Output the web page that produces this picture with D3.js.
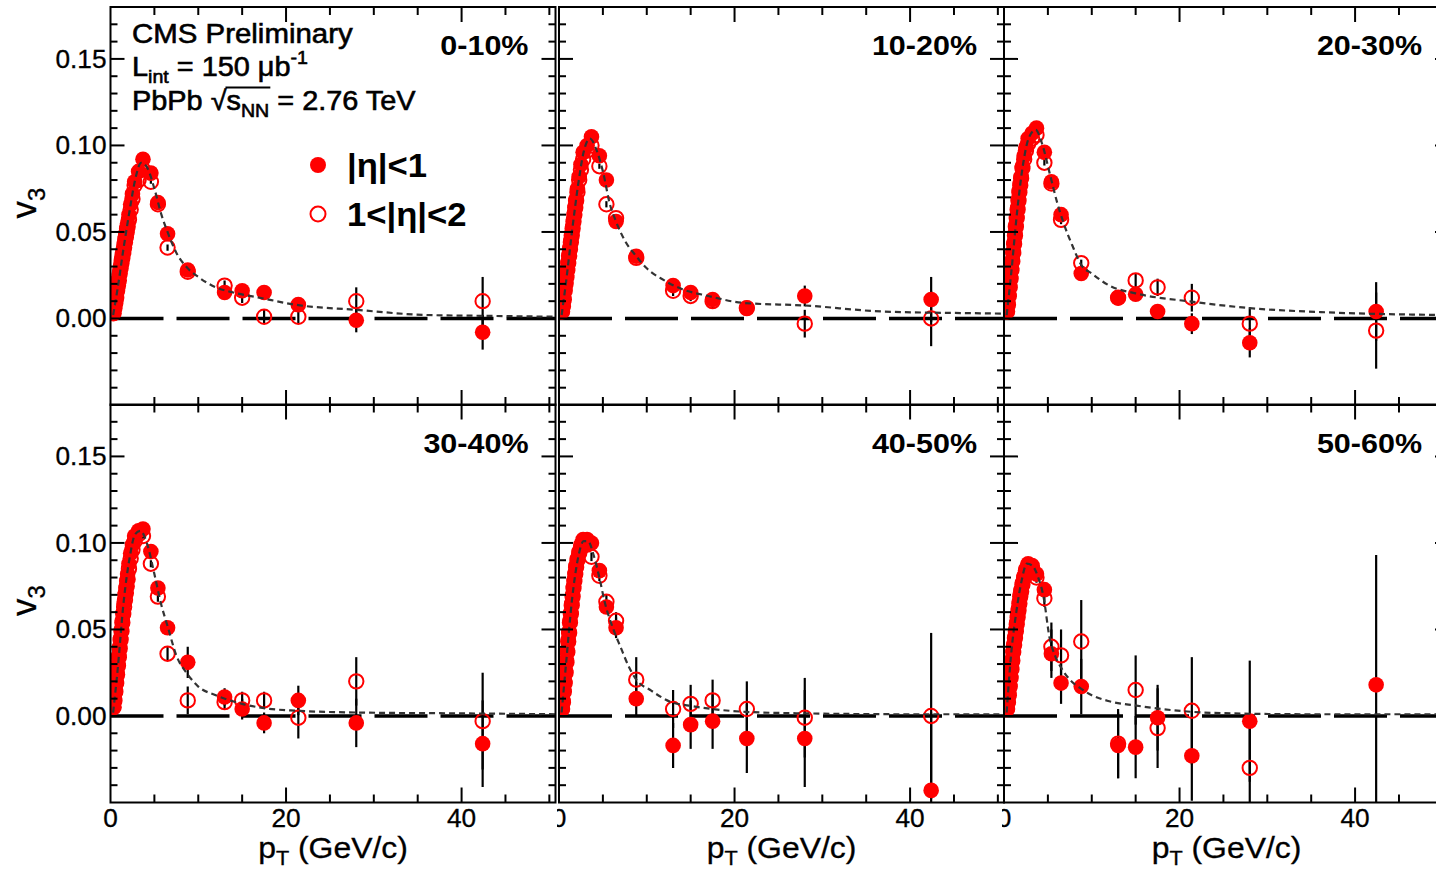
<!DOCTYPE html>
<html>
<head>
<meta charset="utf-8">
<title>v3 vs pT, PbPb 2.76 TeV</title>
<script src="https://cdn.jsdelivr.net/npm/d3@7/dist/d3.min.js"></script>
<style>
  html, body { margin: 0; padding: 0; background: #fff; }
  svg { display: block; }
  text { white-space: pre; }
</style>
</head>
<body>
<svg id="chart" width="1436" height="872"></svg>
<script>
// ---------------------------------------------------------------
// Data
// ---------------------------------------------------------------
// pT bin centres (GeV/c), shared by all centrality classes
const pT = [0.35,0.45,0.55,0.65,0.75,0.85,0.95,1.05,1.15,1.25,1.35,1.45,1.55,1.65,1.75,1.85,1.95,
            2.1,2.3,2.5,2.75,3.2,3.7,4.6,5.4,6.5,8.8,13.0,15.0,17.5,21.4,28.0,42.4];

const centralityLabels = ["0-10%", "10-20%", "20-30%", "30-40%", "40-50%", "50-60%"];

// v3 for |eta|<1 (filled) and 1<|eta|<2 (open), with their errors
const mid_0_10    = [.003,.006,.010,.013,.017,.020,.024,.027,.030,.034,.037,.040,.043,.046,.049,.052,.055,
                     .060,.066,.072,.079,.085,.092,.084,.067,.049,.028,.015,.016,.015,.008,-.001,-.008];
const midErr_0_10 = [.0004,.0004,.0004,.0004,.0004,.0004,.0004,.0004,.0004,.0004,.0004,.0004,.0004,.0004,.0004,.0004,.0004,
                     .0005,.0005,.0005,.0006,.0006,.0007,.0008,.001,.0012,.0015,.002,.002,.003,.003,.007,.010];
const fwd_0_10    = [.003,.006,.009,.012,.016,.019,.022,.026,.029,.032,.035,.038,.041,.044,.047,.050,.053,
                     .057,.063,.069,.077,.080,.086,.079,.066,.041,.027,.019,.012,.001,.001,.010,.010];
const fwdErr_0_10 = [.0005,.0005,.0005,.0005,.0005,.0005,.0005,.0005,.0005,.0005,.0005,.0005,.0005,.0005,.0005,.0005,.0005,
                     .0006,.0006,.0007,.0008,.0009,.001,.0012,.0015,.0018,.002,.003,.003,.004,.004,.008,.014];

const mid_10_20    = [.004,.008,.012,.017,.021,.025,.029,.033,.037,.041,.045,.049,.053,.057,.061,.065,.069,
                      .075,.082,.089,.096,.100,.105,.094,.080,.056,.036,.019,.015,.011,.006,.013,.011];
const midErr_10_20 = [.0004,.0004,.0004,.0004,.0004,.0004,.0004,.0004,.0004,.0004,.0004,.0004,.0004,.0004,.0004,.0004,.0004,
                      .0005,.0005,.0006,.0006,.0007,.0008,.001,.0012,.0015,.0015,.002,.002,.003,.003,.006,.013];
const fwd_10_20    = [.004,.007,.011,.016,.020,.024,.028,.032,.036,.040,.044,.048,.052,.056,.060,.064,.068,
                      .073,.080,.086,.092,.097,.100,.088,.066,.058,.035,.016,.013,.010,.006,-.003,.000];
const fwdErr_10_20 = [.0005,.0005,.0005,.0005,.0005,.0005,.0005,.0005,.0005,.0005,.0005,.0005,.0005,.0005,.0005,.0005,.0005,
                      .0006,.0007,.0008,.0009,.001,.0012,.0015,.0018,.002,.002,.003,.003,.004,.004,.008,.016];

const mid_20_30    = [.004,.009,.014,.019,.024,.029,.034,.039,.044,.049,.054,.059,.064,.069,.074,.078,.082,
                      .088,.094,.099,.104,.107,.110,.096,.079,.060,.026,.012,.014,.004,-.003,-.014,.004];
const midErr_20_30 = [.0005,.0005,.0005,.0005,.0005,.0005,.0005,.0005,.0005,.0005,.0005,.0005,.0005,.0005,.0005,.0005,.0005,
                      .0006,.0006,.0007,.0008,.0009,.001,.0012,.0015,.002,.002,.003,.004,.004,.006,.0085,.017];
const fwd_20_30    = [.004,.008,.013,.018,.023,.028,.033,.038,.043,.048,.053,.058,.063,.068,.073,.077,.081,
                      .087,.092,.097,.101,.104,.106,.090,.078,.057,.032,.012,.022,.018,.012,-.003,-.007];
const fwdErr_20_30 = [.0006,.0006,.0006,.0006,.0006,.0006,.0006,.0006,.0006,.0006,.0006,.0006,.0006,.0006,.0006,.0006,.0006,
                      .0007,.0008,.0009,.001,.0012,.0014,.0016,.002,.0025,.002,.003,.004,.005,.008,.0095,.022];

const mid_30_40    = [.005,.010,.015,.020,.025,.030,.035,.040,.045,.050,.055,.060,.065,.070,.074,.078,.082,
                      .088,.094,.099,.104,.107,.108,.095,.074,.051,.031,.011,.004,-.004,.009,-.004,-.016];
const midErr_30_40 = [.0006,.0006,.0006,.0006,.0006,.0006,.0006,.0006,.0006,.0006,.0006,.0006,.0006,.0006,.0006,.0006,.0006,
                      .0007,.0008,.0009,.001,.0012,.0014,.002,.002,.003,.009,.005,.006,.006,.0085,.014,.025];
const fwd_30_40    = [.005,.009,.014,.019,.024,.029,.034,.039,.044,.049,.054,.059,.063,.067,.071,.075,.079,
                      .085,.091,.096,.101,.105,.104,.088,.069,.036,.009,.008,.009,.009,-.001,.020,-.003];
const fwdErr_30_40 = [.0007,.0007,.0007,.0007,.0007,.0007,.0007,.0007,.0007,.0007,.0007,.0007,.0007,.0007,.0007,.0007,.0007,
                      .0008,.0009,.001,.0012,.0014,.0016,.002,.003,.004,.008,.004,.005,.005,.012,.014,.028];

const mid_40_50    = [.004,.009,.015,.020,.026,.032,.038,.044,.049,.055,.060,.065,.070,.075,.079,.083,.087,
                      .091,.095,.099,.102,.102,.100,.084,.063,.051,.010,-.017,-.005,-.003,-.013,-.013,-.043];
const midErr_40_50 = [.0008,.0008,.0008,.0008,.0008,.0008,.0008,.0008,.0008,.0008,.0008,.0008,.0008,.0008,.0008,.0008,.0008,
                      .001,.001,.0012,.0014,.0016,.002,.003,.004,.006,.0095,.013,.014,.016,.020,.028,.045];
const fwd_40_50    = [.004,.008,.014,.019,.025,.031,.037,.043,.048,.054,.059,.064,.069,.074,.078,.082,.086,
                      .090,.094,.097,.100,.099,.092,.081,.066,.055,.021,.004,.007,.009,.004,-.001,.000];
const fwdErr_40_50 = [.0009,.0009,.0009,.0009,.0009,.0009,.0009,.0009,.0009,.0009,.0009,.0009,.0009,.0009,.0009,.0009,.0009,
                      .001,.0012,.0014,.0016,.002,.0025,.003,.004,.005,.013,.011,.011,.012,.016,.023,.048];

const mid_50_60    = [.004,.008,.013,.018,.023,.028,.033,.038,.042,.046,.050,.054,.058,.062,.066,.070,.073,
                      .077,.081,.085,.088,.087,.082,.073,.036,.019,.017,-.017,-.018,-.001,-.023,-.003,.018];
const midErr_50_60 = [.001,.001,.001,.001,.001,.001,.001,.001,.001,.001,.001,.001,.001,.001,.001,.001,.001,
                      .0012,.0014,.0016,.0018,.002,.003,.004,.014,.012,.016,.019,.018,.019,.026,.035,.075];
const fwd_50_60    = [.004,.008,.012,.017,.022,.027,.032,.037,.041,.045,.049,.053,.057,.061,.065,.069,.072,
                      .076,.080,.084,.087,.085,.080,.068,.040,.035,.043,-.016,.015,-.007,.003,-.030,null];
const fwdErr_50_60 = [.0012,.0012,.0012,.0012,.0012,.0012,.0012,.0012,.0012,.0012,.0012,.0012,.0012,.0012,.0012,.0012,.0012,
                      .0014,.0016,.0018,.002,.0025,.003,.005,.014,.015,.024,.02,.020,.023,.031,.03,null];

// Smooth fit curves, [pT, v3] nodes
const fit_0_10  = [[0.3,.002],[0.8,.017],[1.5,.041],[2.2,.063],[2.8,.080],[3.5,.090],[4.2,.087],[5,.075],[5.8,.060],[6.5,.050],
                   [7.5,.038],[8.8,.029],[10,.024],[12,.018],[14,.015],[17,.012],[21,.008],[28,.005],[36,.002],[43,.0015],[50.7,.001]];
const fit_10_20 = [[0.3,.002],[0.8,.021],[1.5,.051],[2.2,.078],[2.8,.096],[3.5,.104],[4.3,.097],[5,.085],[5.8,.066],[6.5,.056],
                   [7.5,.045],[8.8,.036],[10,.029],[12,.022],[14,.017],[17,.013],[21,.009],[28,.0075],[37,.004],[48,.003],[50.7,.0028]];
const fit_20_30 = [[0.3,.002],[0.8,.025],[1.5,.062],[2.2,.090],[2.8,.104],[3.6,.109],[4.4,.100],[5.2,.084],[6,.068],[6.8,.055],
                   [7.8,.042],[8.8,.031],[10,.026],[12,.019],[15,.0145],[21.4,.0097],[28,.006],[37,.0035],[50.7,.002]];
const fit_30_40 = [[0.3,.002],[0.8,.026],[1.5,.066],[2.2,.092],[2.8,.105],[3.4,.107],[4.2,.099],[5,.082],[5.8,.064],[6.5,.052],
                   [7.5,.035],[8.8,.024],[10,.017],[12,.012],[15,.007],[17.5,.0045],[21.4,.003],[28,.002],[40,.0015],[50.7,.001]];
const fit_40_50 = [[0.3,.002],[0.8,.030],[1.5,.068],[2.2,.092],[2.8,.101],[3.3,.101],[4,.092],[4.6,.080],[5.2,.066],[6.2,.050],
                   [7,.040],[8,.028],[8.8,.021],[10.4,.015],[12.8,.008],[14.8,.006],[17.5,.004],[21.2,.0024],[28,.0015],[40,.001],[50.7,.001]];
const fit_50_60 = [[0.3,.002],[0.8,.035],[1.4,.060],[2,.078],[2.6,.088],[3.2,.087],[3.9,.080],[4.5,.069],[5.2,.045],[5.8,.035],
                   [6.5,.028],[7.5,.021],[8.8,.0157],[10,.012],[12,.0085],[15.1,.006],[18,.004],[21.4,.0024],[26,.0015],[35,.001],[50.7,.001]];

// Axis labels
const yTickLabels = [0.00, 0.05, 0.10, 0.15];
const xTickLabels = [0, 20, 40];
const legendLabels = ["|η|<1", "1<|η|<2"];

const panels = [
  { label: centralityLabels[0], mid: mid_0_10,  midErr: midErr_0_10,  fwd: fwd_0_10,  fwdErr: fwdErr_0_10,  fit: fit_0_10 },
  { label: centralityLabels[1], mid: mid_10_20, midErr: midErr_10_20, fwd: fwd_10_20, fwdErr: fwdErr_10_20, fit: fit_10_20 },
  { label: centralityLabels[2], mid: mid_20_30, midErr: midErr_20_30, fwd: fwd_20_30, fwdErr: fwdErr_20_30, fit: fit_20_30 },
  { label: centralityLabels[3], mid: mid_30_40, midErr: midErr_30_40, fwd: fwd_30_40, fwdErr: fwdErr_30_40, fit: fit_30_40 },
  { label: centralityLabels[4], mid: mid_40_50, midErr: midErr_40_50, fwd: fwd_40_50, fwdErr: fwdErr_40_50, fit: fit_40_50 },
  { label: centralityLabels[5], mid: mid_50_60, midErr: midErr_50_60, fwd: fwd_50_60, fwdErr: fwdErr_50_60, fit: fit_50_60 }
];

// ---------------------------------------------------------------
// Layout and scales
// ---------------------------------------------------------------
const FONT = "'Liberation Sans', Arial, Helvetica, sans-serif";
const RED = "#ff0000";
const colLeft = [110.5, 559, 1004];
const rowTop = [7, 404.5];
const PW = 445, PH = 398;
const X_MAX = 50.7;

const x = d3.scaleLinear().domain([0, X_MAX]).range([0, PW]);
const y = d3.scaleLinear().domain([-0.05, 0.18]).range([PH, 0]);

const svg = d3.select("#chart");
const defs = svg.append("defs");

// text with optional sub/superscript runs
function richText(parent, tx, ty, parts, o) {
  const g = parent.append("g")
    .attr("transform", `translate(${tx},${ty})${o.rotate ? ` rotate(${o.rotate})` : ""} scale(${o.sx || 1},1)`);
  const t = g.append("text")
    .attr("font-family", FONT)
    .attr("font-size", o.size)
    .attr("font-weight", o.weight || "normal")
    .attr("text-anchor", o.anchor || "start")
    .attr("fill", "#000")
    .attr("stroke", o.heavy ? "#000" : "none")
    .attr("stroke-width", o.heavy || 0);
  let shift = 0;
  parts.forEach(p => {
    const target = p.sub ? o.size * 0.27 : p.sup ? -o.size * 0.42 : 0;
    t.append("tspan")
      .attr("dy", target - shift)
      .attr("font-size", (p.sub || p.sup) ? o.size * 0.68 : o.size)
      .text(p.t);
    shift = target;
  });
  return { g, t };
}

const isMultiple = (v, step) => Math.abs(v / step - Math.round(v / step)) < 1e-6;

panels.forEach((p, i) => {
  const col = i % 3, row = Math.floor(i / 3);
  const g = svg.append("g").attr("transform", `translate(${colLeft[col]},${rowTop[row]})`);

  const clipId = "frame-clip-" + i;
  defs.append("clipPath").attr("id", clipId)
    .append("rect").attr("x", 0).attr("y", 0).attr("width", PW).attr("height", PH);
  const plot = g.append("g").attr("clip-path", `url(#${clipId})`);

  // zero reference line
  plot.append("line")
    .attr("x1", x(0)).attr("x2", x(X_MAX))
    .attr("y1", y(0)).attr("y2", y(0))
    .attr("stroke", "#000").attr("stroke-width", 3.5)
    .attr("stroke-dasharray", "53,13");

  const toPoints = (vals, errs) =>
    pT.map((pt, k) => ({ pt, v: vals[k], e: errs[k] })).filter(d => d.v !== null);
  const mid = toPoints(p.mid, p.midErr);
  const fwd = toPoints(p.fwd, p.fwdErr);

  // error bars
  [fwd, mid].forEach(series => {
    plot.append("g").selectAll("line")
      .data(series.filter(d => d.e))
      .join("line")
      .attr("x1", d => x(d.pt)).attr("x2", d => x(d.pt))
      .attr("y1", d => y(d.v - d.e)).attr("y2", d => y(d.v + d.e))
      .attr("stroke", "#000").attr("stroke-width", 2.2);
  });

  // 1<|eta|<2 : open circles
  plot.append("g").selectAll("circle")
    .data(fwd).join("circle")
    .attr("cx", d => x(d.pt)).attr("cy", d => y(d.v)).attr("r", 7.2)
    .attr("fill", "none").attr("stroke", RED).attr("stroke-width", 2);

  // |eta|<1 : filled circles
  plot.append("g").selectAll("circle")
    .data(mid).join("circle")
    .attr("cx", d => x(d.pt)).attr("cy", d => y(d.v)).attr("r", 7.8)
    .attr("fill", RED);

  // fit curve
  const line = d3.line().x(d => x(d[0])).y(d => y(d[1])).curve(d3.curveMonotoneX);
  plot.append("path")
    .attr("d", line(p.fit))
    .attr("fill", "none").attr("stroke", "#333").attr("stroke-width", 2.2)
    .attr("stroke-dasharray", "6,4");

  // frame
  g.append("rect").attr("width", PW).attr("height", PH)
    .attr("fill", "none").attr("stroke", "#000").attr("stroke-width", 2);

  // ticks (all pointing inward)
  const ticks = g.append("g").attr("stroke", "#000").attr("stroke-width", 2);
  y.ticks(23).filter(v => v > -0.0499 && v < 0.1799).forEach(v => {
    const len = isMultiple(v, 0.05) ? 14 : 7;
    ticks.append("line").attr("x1", 0).attr("x2", len).attr("y1", y(v)).attr("y2", y(v));
    ticks.append("line").attr("x1", PW).attr("x2", PW - len).attr("y1", y(v)).attr("y2", y(v));
  });
  x.ticks(10).filter(v => v > 0.01 && v < X_MAX - 0.01).forEach(v => {
    const len = isMultiple(v, 20) ? 15 : 8;
    ticks.append("line").attr("x1", x(v)).attr("x2", x(v)).attr("y1", PH).attr("y2", PH - len);
    ticks.append("line").attr("x1", x(v)).attr("x2", x(v)).attr("y1", 0).attr("y2", len);
  });

  // y tick labels + title on the left column
  if (col === 0) {
    yTickLabels.forEach(v => {
      richText(g, -4, y(v) + 9, [{ t: d3.format(".2f")(v) }], { size: 25, sx: 1.05, anchor: "end", heavy: 0.3 });
    });
    richText(g, -74.5, PH / 2 - 3, [{ t: "v" }, { t: "3", sub: true }],
      { size: 35, anchor: "middle", rotate: -90, heavy: 0.3 });
  }

  // x tick labels + title on the bottom row
  if (row === 1) {
    const lclip = "label-clip-" + i;
    defs.append("clipPath").attr("id", lclip)
      .append("rect").attr("x", col === 0 ? -120 : -2).attr("y", PH).attr("width", PW + 140).attr("height", 80);
    const lab = g.append("g").attr("clip-path", `url(#${lclip})`);
    xTickLabels.forEach(v => {
      richText(lab, x(v), PH + 24.5, [{ t: String(v) }], { size: 25, sx: 1.05, anchor: "middle", heavy: 0.3 });
    });
    richText(g, PW / 2, PH + 55, [{ t: "p" }, { t: "T", sub: true }, { t: " (GeV/c)" }],
      { size: 29, sx: 1.1, anchor: "middle", heavy: 0.3 });
  }

  // centrality class
  richText(g, PW - 27, 48, [{ t: p.label }], { size: 28, sx: 1.09, weight: "bold", anchor: "end" });
});

// ---------------------------------------------------------------
// Header text and legend in the first panel
// ---------------------------------------------------------------
const header = svg.append("g");
richText(header, 132, 43, [{ t: "CMS Preliminary" }], { size: 27.5, sx: 1.07, heavy: 0.6 });
richText(header, 132, 76, [{ t: "L" }, { t: "int", sub: true }, { t: " = 150 μb" }, { t: "-1", sup: true }],
  { size: 27.5, sx: 1.05, heavy: 0.6 });
const energy = richText(header, 132, 110,
  [{ t: "PbPb " }, { t: "√" }, { t: "s" }, { t: "NN", sub: true }, { t: " = 2.76 TeV" }],
  { size: 27.5, sx: 1.05, heavy: 0.6 });
// overline of the square root, over "s_NN"
{
  const node = energy.t.node();
  const x0 = node.getEndPositionOfChar(5).x - 1;
  const x1 = node.getEndPositionOfChar(8).x + 1;
  energy.g.append("line")
    .attr("x1", x0).attr("x2", x1).attr("y1", -22.5).attr("y2", -22.5)
    .attr("stroke", "#000").attr("stroke-width", 1.8);
}

// legend
header.append("circle").attr("cx", 318).attr("cy", 165).attr("r", 8).attr("fill", RED);
header.append("circle").attr("cx", 318).attr("cy", 214).attr("r", 7.5)
  .attr("fill", "none").attr("stroke", RED).attr("stroke-width", 2);
richText(header, 347, 177, [{ t: legendLabels[0] }], { size: 33, sx: 1.05, weight: "bold" });
richText(header, 347, 226, [{ t: legendLabels[1] }], { size: 33, sx: 1.05, weight: "bold" });
</script>
</body>
</html>
